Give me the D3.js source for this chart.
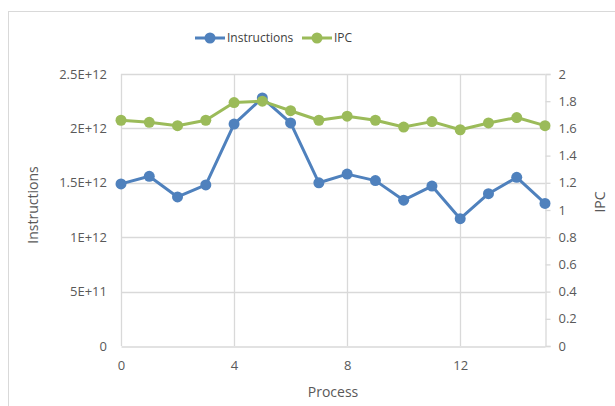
<!DOCTYPE html>
<html>
<head>
<meta charset="utf-8">
<script src="https://cdn.jsdelivr.net/npm/d3@7"></script>
<style>
  body { margin: 0; background: #fff; }
  text { font-family: "Open Sans", "Noto Sans", sans-serif; fill: #595959; }
</style>
</head>
<body>
<svg id="chart" width="615" height="406"></svg>
<script>
// Chart data
const processes = d3.range(0, 16);
const instructions = [1.49e12, 1.56e12, 1.37e12, 1.48e12, 2.04e12, 2.28e12, 2.05e12, 1.50e12,
                      1.58e12, 1.52e12, 1.34e12, 1.47e12, 1.17e12, 1.40e12, 1.55e12, 1.31e12];
const ipc = [1.66, 1.645, 1.62, 1.66, 1.79, 1.80, 1.73, 1.66,
             1.69, 1.66, 1.61, 1.65, 1.59, 1.64, 1.68, 1.62];
const xTicks = [0, 4, 8, 12];
const leftTicks = [0, 5e11, 1e12, 1.5e12, 2e12, 2.5e12];
const leftTickLabels = ["0", "5E+11", "1E+12", "1.5E+12", "2E+12", "2.5E+12"];
const rightTicks = d3.range(0, 11).map(i => i * 0.2);

const blue = "#4f81bd", green = "#9bbb59", grid = "#d9d9d9";

const svg = d3.select("#chart");

// chart frame
svg.append("rect")
  .attr("x", 8.5).attr("y", 11.5)
  .attr("width", 620).attr("height", 400)
  .attr("fill", "none").attr("stroke", "#d9d9d9");

const margin = { left: 121, right: 545, top: 74, bottom: 346 };

const x = d3.scaleLinear().domain([0, 15]).range([margin.left, margin.right]);
const yL = d3.scaleLinear().domain([0, 2.5e12]).range([margin.bottom, margin.top]);
const yR = d3.scaleLinear().domain([0, 2]).range([margin.bottom, margin.top]);

// horizontal gridlines
svg.append("g")
  .selectAll("line")
  .data(leftTicks.slice(1))
  .join("line")
  .attr("x1", margin.left).attr("x2", margin.right)
  .attr("y1", d => Math.round(yL(d)) + 0.5).attr("y2", d => Math.round(yL(d)) + 0.5)
  .attr("stroke", grid).attr("stroke-width", 1.3);

// vertical gridlines
svg.append("g")
  .selectAll("line")
  .data(xTicks)
  .join("line")
  .attr("x1", d => Math.round(x(d)) + 0.5).attr("x2", d => Math.round(x(d)) + 0.5)
  .attr("y1", margin.top).attr("y2", margin.bottom)
  .attr("stroke", grid).attr("stroke-width", 1.3);

// bottom axis
const xAxis = svg.append("g")
  .attr("transform", `translate(0,${margin.bottom + 0.5})`)
  .call(d3.axisBottom(x).tickValues(xTicks).tickSize(0).tickPadding(14));
xAxis.select(".domain").attr("stroke", grid).attr("stroke-width", 1.3);
xAxis.selectAll("text").style("font-size", "13px").style("fill", "#595959");

// left axis
const leftAxis = svg.append("g")
  .attr("transform", `translate(${margin.left},0)`)
  .call(d3.axisLeft(yL).tickValues(leftTicks).tickSize(0).tickPadding(14)
    .tickFormat((d, i) => leftTickLabels[i]));
leftAxis.select(".domain").remove();
leftAxis.selectAll("text").style("font-size", "13px").style("fill", "#595959");

// right axis
const rightAxis = svg.append("g")
  .attr("transform", `translate(${margin.right + 0.5},0)`)
  .call(d3.axisRight(yR).tickValues(rightTicks).tickSize(5).tickPadding(8)
    .tickFormat(d3.format("~g")));
rightAxis.select(".domain").attr("stroke", grid).attr("stroke-width", 1.3);
rightAxis.selectAll("line").attr("stroke", grid).attr("stroke-width", 1.3);
rightAxis.selectAll("text").style("font-size", "13px").style("fill", "#595959");

// axis titles
svg.append("text")
  .attr("transform", "translate(38,205) rotate(-90)")
  .attr("text-anchor", "middle")
  .style("font-size", "14px")
  .text("Instructions");
svg.append("text")
  .attr("transform", "translate(605,202) rotate(-90)")
  .attr("text-anchor", "middle")
  .style("font-size", "14px")
  .text("IPC");
svg.append("text")
  .attr("x", 333).attr("y", 397)
  .attr("text-anchor", "middle")
  .style("font-size", "14px")
  .text("Process");

// series
function drawSeries(values, yScale, color) {
  const line = d3.line().x((d, i) => x(processes[i])).y(d => yScale(d));
  svg.append("path")
    .datum(values)
    .attr("d", line)
    .attr("fill", "none")
    .attr("stroke", color)
    .attr("stroke-width", 3)
    .attr("stroke-linejoin", "round");
  svg.append("g")
    .selectAll("circle")
    .data(values)
    .join("circle")
    .attr("cx", (d, i) => x(processes[i]))
    .attr("cy", d => yScale(d))
    .attr("r", 5.5)
    .attr("fill", color);
}
drawSeries(instructions, yL, blue);
drawSeries(ipc, yR, green);

// legend
const legend = [
  { name: "Instructions", color: blue, x: 195 },
  { name: "IPC", color: green, x: 302 }
];
const lg = svg.append("g").selectAll("g").data(legend).join("g")
  .attr("transform", d => `translate(${d.x},38)`);
lg.append("line").attr("x1", 0).attr("x2", 30)
  .attr("stroke", d => d.color).attr("stroke-width", 3);
lg.append("circle").attr("cx", 15).attr("r", 5.5).attr("fill", d => d.color);
lg.append("text").attr("x", 32).attr("dy", "0.35em")
  .style("font-size", "12px").style("fill", "#404040")
  .text(d => d.name);
</script>
</body>
</html>
